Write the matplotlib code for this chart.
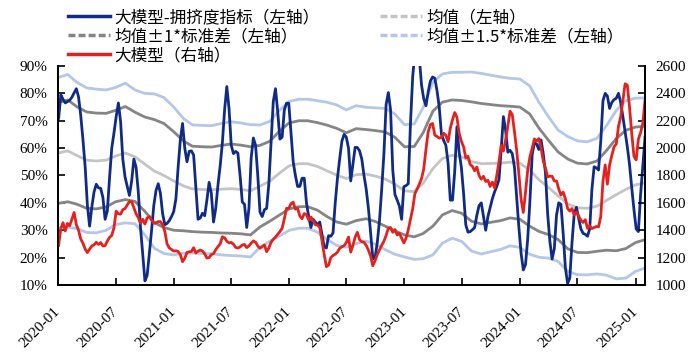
import matplotlib
matplotlib.use("Agg")
import matplotlib.pyplot as plt
from matplotlib.lines import Line2D
from matplotlib.ticker import FuncFormatter
import numpy as np
import pandas as pd

plt.rcParams['font.serif'] = ['Liberation Serif', 'Times New Roman', 'DejaVu Serif']
plt.rcParams['font.family'] = ['serif']

# weekly data
weeks = pd.date_range('2020-01-03', periods=266, freq='7D')

crowd = [70.9, 79.5, 77.8, 76.5, 77, 77.5, 78.6, 80.2, 81.7, 78.7,
         71.8, 63, 53, 39, 31.5, 38.5, 44, 46.8, 45.5, 45.3,
         42, 34, 37, 49, 60, 65.5, 71.5, 76.5, 69.7, 56,
         49.5, 46, 42.7, 48, 56, 53, 44, 31, 21, 11.5,
         13.5, 21.5, 30, 39, 44.5, 47, 43.5, 36, 32, 32.5,
         33.5, 35, 36.8, 41.5, 53, 63, 69, 60, 55, 58.8,
         59, 57.5, 46, 34, 34.5, 36.2, 35.3, 41, 47.5, 43.5,
         33, 38, 46.5, 53.5, 62, 74, 82.5, 74.5, 61.1, 58,
         58.8, 58.2, 50, 40.3, 39.5, 31, 38, 56.3, 63.7, 61,
         50, 36.6, 35, 37.5, 38, 47, 62, 77, 81.7, 73.3,
         63.3, 64, 74, 76.4, 76.4, 65.5, 55, 50, 46, 46,
         49, 49, 40, 35, 31, 34, 33, 32, 33, 28.5,
         24, 23.5, 28, 27.8, 29, 40, 49, 56, 62.5, 65,
         64, 60, 48, 54, 60.3, 60.2, 59, 56, 50, 45,
         38, 29, 19.5, 20, 25.5, 33.5, 45, 58, 76, 80.3,
         74, 52, 43, 41, 38.8, 34, 45.9, 46.3, 47, 69,
         86, 95, 97, 93, 83, 78, 75.5, 80.5, 84.5, 86,
         85.5, 81, 75, 65, 62.8, 61, 54.5, 41, 41, 51.5,
         67.8, 58.5, 53, 43.5, 32, 29.3, 29.5, 30.2, 31, 35.5,
         39, 40, 35, 30, 35, 38.3, 41.5, 44, 46, 48.5,
         59.5, 71.5, 66.5, 58.5, 59.2, 58, 53, 42, 31, 21.5,
         15.5, 17.5, 27, 41, 57.6, 62, 61.5, 59.5, 63, 58,
         51, 36, 26, 19.5, 23.2, 35.5, 40, 39.5, 29, 16.4,
         10.6, 12.5, 25.5, 36, 38.4, 34.5, 30.5, 28.9, 28.5, 27.8,
         30.5, 45, 53.2, 52.8, 52, 62.5, 77.3, 80, 79, 74.5,
         76.7, 77.7, 78.2, 80, 76.7, 71.5, 66, 60.5, 54, 45.5,
         37.5, 30.5, 29.5, 43, 53.5, 64]

llm = [1290, 1414, 1455, 1395, 1450, 1432, 1480, 1530, 1440, 1400,
       1335, 1305, 1262, 1237, 1262, 1285, 1293, 1312, 1296, 1310,
       1285, 1288, 1320, 1348, 1362, 1417, 1540, 1520, 1518, 1550,
       1558, 1585, 1609, 1609, 1565, 1520, 1492, 1451, 1480, 1445,
       1490, 1500, 1474, 1451, 1453, 1463, 1463, 1440, 1390, 1300,
       1271, 1259, 1248, 1250, 1245, 1222, 1170, 1195, 1238, 1242,
       1245, 1272, 1234, 1247, 1255, 1248, 1228, 1197, 1200, 1222,
       1229, 1258, 1280, 1300, 1352, 1345, 1320, 1308, 1311, 1298,
       1275, 1270, 1278, 1292, 1296, 1273, 1285, 1306, 1322, 1312,
       1285, 1269, 1280, 1292, 1243, 1270, 1312, 1334, 1350, 1370,
       1390, 1414, 1484, 1560, 1560, 1594, 1605, 1554, 1560, 1505,
       1484, 1522, 1514, 1475, 1497, 1471, 1440, 1438, 1420, 1325,
       1224, 1134, 1145, 1200, 1216, 1225, 1240, 1268, 1279, 1287,
       1310, 1350, 1240, 1290, 1350, 1385, 1332, 1316, 1313, 1289,
       1255, 1210, 1140, 1177, 1222, 1256, 1290, 1320, 1362, 1415,
       1420, 1385, 1405, 1365, 1378, 1342, 1307, 1341, 1403, 1480,
       1556, 1667, 1700, 1737, 1777, 1848, 1990, 2118, 2172, 2180,
       2095, 2085, 2073, 2077, 2109, 2093, 2047, 2145, 2207, 2260,
       2225, 2110, 2050, 2010, 1929, 1940, 1880, 1867, 1834, 1862,
       1800, 1773, 1794, 1756, 1765, 1720, 1752, 1710, 1800, 1900,
       2020, 1978, 2060, 2160, 2270, 2245, 2120, 1985, 1810, 1625,
       1530, 1680, 1840, 1937, 2000, 2067, 2050, 2070, 2004, 1906,
       1855, 1790, 1795, 1795, 1760, 1760, 1702, 1658, 1679, 1631,
       1560, 1540, 1558, 1511, 1533, 1503, 1474, 1457, 1477, 1414,
       1433, 1412, 1420, 1427, 1425, 1500, 1760, 1877, 1737, 1877,
       1946, 2010, 2030, 2159, 2228, 2350, 2470, 2460, 2300, 2107,
       1940, 1914, 2065, 2114, 2180, 2350]

# rolling mean / std of the crowding index, monthly
months = pd.date_range('2020-01-01', periods=62, freq='MS')

mean = [58.2, 59.0, 57.3, 55.6, 55.3, 55.6, 57.1, 58.2, 56.8, 54.2,
        51.6, 50.0, 48.0, 46.2, 45.1, 44.9, 44.8, 45.0, 45.2, 44.9,
        44.4, 46.1, 47.9, 50.8, 53.5, 54.3, 54.3, 53.3, 51.7, 50.1,
        48.9, 50.3, 50.5, 49.8, 48.7, 46.9, 44.4, 44.1, 47.2, 52.5,
        56.2, 57.4, 56.8, 55.1, 54.3, 54.4, 54.5, 54.9, 54.5, 52.0,
        48.5, 45.6, 42.6, 39.6, 38.2, 38.0, 38.8, 40.9, 43.0, 44.9,
        46.6, 47.3]

std = [18.4, 18.6, 17.8, 17.6, 17.5, 17.1, 16.7, 17.0, 16.3, 17.2,
       18.8, 19.0, 18.0, 16.4, 15.6, 15.6, 15.6, 16.0, 16.3, 16.2,
       16.1, 14.9, 14.6, 15.3, 15.7, 15.7, 15.7, 16.0, 16.7, 17.1,
       16.7, 16.8, 16.3, 16.6, 17.2, 17.1, 16.1, 16.5, 18.4, 21.0,
       20.6, 20.2, 20.6, 21.8, 22.0, 21.5, 21.0, 20.4, 20.5, 20.5,
       18.9, 17.2, 16.0, 16.4, 16.3, 16.2, 16.5, 18.2, 20.5, 21.6,
       21.1, 20.7]

tick_dates = pd.date_range('2020-01-01', '2025-01-01', freq='6MS')

c_blue = '#0f2b85'
c_red = '#e3221f'
c_gray = '#858585'
c_lgray = '#c4c4c4'
c_lblue = '#b4c7e7'

mean = np.array(mean)
std = np.array(std)

fig = plt.figure(figsize=(6.98, 3.63), dpi=100)
ax = fig.add_axes([0.0831, 0.2149, 0.841, 0.6033])

lw = 2.0
ax.plot(months, mean + 1.5 * std, color=c_lblue, lw=lw)
ax.plot(months, mean - 1.5 * std, color=c_lblue, lw=lw)
ax.plot(months, mean, color=c_lgray, lw=lw)
ax.plot(months, mean + std, color=c_gray, lw=lw)
ax.plot(months, mean - std, color=c_gray, lw=lw)
ax.plot(weeks, crowd, color=c_blue, lw=2.0)

ax.set_ylim(10, 90)
ax.set_yticks(range(10, 91, 10))
ax.yaxis.set_major_formatter(FuncFormatter(lambda v, p: '%d%%' % v))
ax.set_xlim(pd.Timestamp('2020-01-01'), weeks[-1])
ax.set_xticks(tick_dates)
ax.set_xticklabels([d.strftime('%Y-%m') for d in tick_dates],
                   rotation=45, ha='right', va='center', rotation_mode='anchor')

ax2 = ax.twinx()
ax2.plot(weeks, llm, color=c_red, lw=2.0)
ax2.set_ylim(1000, 2600)
ax2.set_yticks(range(1000, 2601, 200))

for a in (ax, ax2):
    a.spines['top'].set_visible(False)
    for s in ('left', 'right', 'bottom'):
        a.spines[s].set_linewidth(1.3)
    a.tick_params(direction='in', length=5, width=1.2, labelsize=11, pad=7.5)
    for lbl in a.get_xticklabels() + a.get_yticklabels():
        lbl.set_fontfamily('Liberation Serif')
ax.tick_params(axis='x', pad=18)

dash = (0, (2.0, 0.9))
handles = [Line2D([], [], color=c_blue, lw=2.5),
           Line2D([], [], color=c_gray, lw=2.5, ls=dash),
           Line2D([], [], color=c_red, lw=2.5),
           Line2D([], [], color=c_lgray, lw=2.5, ls=dash),
           Line2D([], [], color=c_lblue, lw=2.5, ls=dash)]
labels = ['大模型-拥挤度指标（左轴）', '均值±1*标准差（左轴）', '大模型（右轴）',
          '均值（左轴）', '均值±1.5*标准差（左轴）']
fig.legend(handles, labels, loc='upper left', bbox_to_anchor=(0.0974, 0.975),
           ncol=2, frameon=False, borderpad=0, borderaxespad=0,
           handlelength=2.5, handletextpad=0.3, columnspacing=3.6,
           labelspacing=0.12, prop={'family': ['Noto Sans CJK SC'], 'size': 12})

fig.savefig('out.png', dpi=100)
